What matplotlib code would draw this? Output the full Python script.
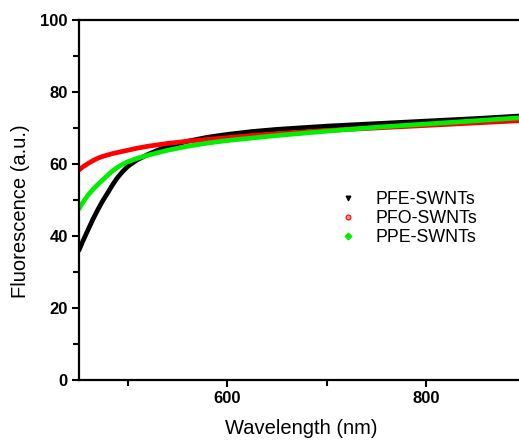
import matplotlib
matplotlib.use("Agg")
import matplotlib.pyplot as plt
import numpy as np

plt.rc("font", family=["Liberation Sans", "DejaVu Sans"])

# wavelength (nm) and fluorescence (a.u.)
wl = [451, 455, 460, 465, 470, 475, 480, 485, 490, 495, 500, 505, 510, 520,
      530, 540, 560, 580, 600, 625, 650, 700, 750, 800, 850, 893]
pfe = [36.0, 38.6, 41.6, 44.6, 47.3, 49.8, 52.0, 54.3, 56.3, 57.9, 59.3, 60.3,
       61.2, 62.6, 63.8, 64.8, 66.3, 67.4, 68.2, 69.0, 69.6, 70.5, 71.2, 71.9,
       72.6, 73.3]
pfo = [58.3, 59.2, 60.1, 60.9, 61.6, 62.1, 62.5, 62.9, 63.2, 63.5, 63.8, 64.1,
       64.4, 64.9, 65.3, 65.7, 66.3, 66.8, 67.3, 67.9, 68.4, 69.3, 70.0, 70.7,
       71.4, 72.0]
ppe = [47.5, 49.3, 51.3, 52.9, 54.3, 55.6, 56.9, 58.1, 59.1, 59.9, 60.6, 61.1,
       61.6, 62.4, 63.1, 63.8, 64.9, 65.8, 66.5, 67.2, 67.9, 69.1, 70.2, 71.1,
       72.0, 72.8]

series = [("PFE-SWNTs", pfe, "black", "v"),
          ("PFO-SWNTs", pfo, "red", "o"),
          ("PPE-SWNTs", ppe, "#00ee00", "D")]

fig = plt.figure(figsize=(5.19, 4.41), dpi=100)
ax = fig.add_axes([0.152, 0.138, 0.848, 0.817])

handles = []
for name, y, c, m in series:
    ax.plot(wl, y, color=c, lw=3.4, solid_capstyle="round",
            solid_joinstyle="round")
    h, = ax.plot([], [], linestyle="none", marker=m, ms=3.5,
                 mfc=c if m != "o" else "#ff9090", mec=c, mew=0.8, label=name)
    handles.append(h)

ax.set_xlim(451, 893)
ax.set_ylim(0, 100)
ax.set_xticks([600, 800])
ax.set_xticks([500, 700], minor=True)
ax.set_yticks([0, 20, 40, 60, 80, 100])
ax.set_yticks([10, 30, 50, 70, 90], minor=True)

for lab in ax.get_xticklabels() + ax.get_yticklabels():
    lab.set_fontweight("bold")
ax.tick_params(which="both", labelsize=12, width=1.5, direction="out", pad=3)
ax.tick_params(which="major", length=5)
ax.tick_params(which="minor", length=4)
for s in ["left", "bottom", "top"]:
    ax.spines[s].set_linewidth(1.6)
ax.spines["right"].set_visible(False)

ax.set_xlabel("Wavelength (nm)", fontsize=14.5)
ax.set_ylabel("Fluorescence (a.u.)", fontsize=14.5)
ax.xaxis.set_label_coords(0.505, -0.108)
ax.yaxis.set_label_coords(-0.111, 0.47)

ax.legend(handles=handles, loc="upper left", bbox_to_anchor=(0.575, 0.545),
          frameon=False, fontsize=12.8, handlelength=1.0, handletextpad=1.05,
          labelspacing=0.12, borderaxespad=0)

fig.savefig("out.png", dpi=100)
plt.close(fig)
